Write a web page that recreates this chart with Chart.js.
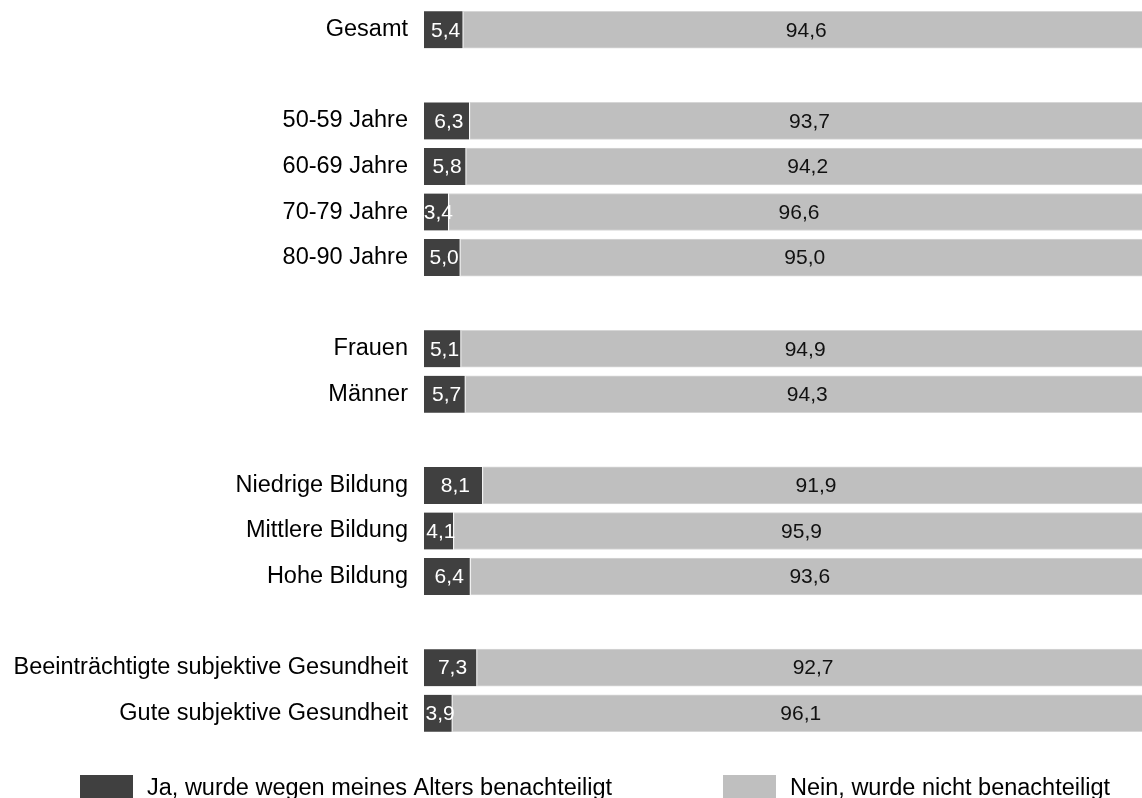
<!DOCTYPE html>
<html>
<head>
<meta charset="utf-8">
<script src="https://cdn.jsdelivr.net/npm/chart.js@4"></script>
<style>
  html, body { margin: 0; padding: 0; background: #fff; overflow: hidden; }
  #wrap { width: 1142px; height: 798px; }
</style>
</head>
<body>
<div id="wrap"><canvas id="myChart"></canvas></div>
<script>
const categories = [
  "Gesamt", "",
  "50-59 Jahre", "60-69 Jahre", "70-79 Jahre", "80-90 Jahre", "",
  "Frauen", "Männer", "",
  "Niedrige Bildung", "Mittlere Bildung", "Hohe Bildung", "",
  "Beeinträchtigte subjektive Gesundheit", "Gute subjektive Gesundheit",
];
const jaValues = [5.4, null, 6.3, 5.8, 3.4, 5.0, null, 5.1, 5.7, null, 8.1, 4.1, 6.4, null, 7.3, 3.9];
const neinValues = [94.6, null, 93.7, 94.2, 96.6, 95.0, null, 94.9, 94.3, null, 91.9, 95.9, 93.6, null, 92.7, 96.1];
const seriesLabels = ["Ja, wurde wegen meines Alters benachteiligt", "Nein, wurde nicht benachteiligt"];

const FONT = "'Liberation Sans', Arial, sans-serif";

// values written into the bars
const barLabels = {
  id: "barLabels",
  afterDatasetsDraw(chart) {
    const ctx = chart.ctx;
    ctx.save();
    ctx.font = "21px " + FONT;
    ctx.textAlign = "center";
    ctx.textBaseline = "middle";
    chart.data.datasets.forEach((ds, di) => {
      const meta = chart.getDatasetMeta(di);
      meta.data.forEach((bar, i) => {
        const v = ds.data[i];
        if (v == null) return;
        const p = bar.getCenterPoint();
        ctx.fillStyle = di === 0 ? "#ffffff" : "#111111";
        ctx.fillText(v.toFixed(1).replace(".", ","), p.x + (di === 0 ? 2 : 0), p.y + 1);
      });
    });
    ctx.restore();
  },
};

// legend spread like the original
const spreadLegend = {
  id: "spreadLegend",
  afterDraw(chart) {
    const ctx = chart.ctx;
    const spots = [80, 723];
    ctx.save();
    ctx.font = "23.5px " + FONT;
    ctx.textBaseline = "alphabetic";
    ctx.textAlign = "left";
    chart.data.datasets.forEach((ds, i) => {
      const x = spots[i];
      ctx.fillStyle = ds.backgroundColor;
      ctx.fillRect(x, 775, 53, 26);
      ctx.fillStyle = "#000000";
      ctx.fillText(ds.label, x + 67, 795);
    });
    ctx.restore();
  },
};

new Chart(document.getElementById("myChart"), {
  type: "bar",
  data: {
    labels: categories,
    datasets: [
      {
        label: seriesLabels[0],
        data: jaValues,
        backgroundColor: "#404040",
        borderColor: "#ffffff",
        borderWidth: { right: 1 },
        borderSkipped: false,
        barThickness: 37,
      },
      {
        label: seriesLabels[1],
        data: neinValues,
        backgroundColor: "#bfbfbf",
        borderColor: "#d6d6d6",
        borderWidth: 1,
        borderSkipped: false,
        barThickness: 37,
      },
    ],
  },
  plugins: [barLabels, spreadLegend],
  options: {
    indexAxis: "y",
    responsive: true,
    maintainAspectRatio: false,
    animation: false,
    layout: { padding: { top: 7, bottom: 62, left: 0, right: 0 } },
    plugins: {
      legend: { display: false },
      tooltip: { enabled: false },
    },
    scales: {
      x: {
        stacked: true,
        display: false,
        min: 0,
        max: 99,
      },
      y: {
        stacked: true,
        grid: { display: false, drawTicks: false },
        border: { display: false },
        ticks: {
          color: "#000000",
          padding: 16,
          font: { family: FONT, size: 23.5 },
        },
        afterFit(scale) {
          scale.width = 424;
          scale.paddingTop = 0;
          scale.paddingBottom = 0;
        },
      },
    },
  },
});
</script>
</body>
</html>
